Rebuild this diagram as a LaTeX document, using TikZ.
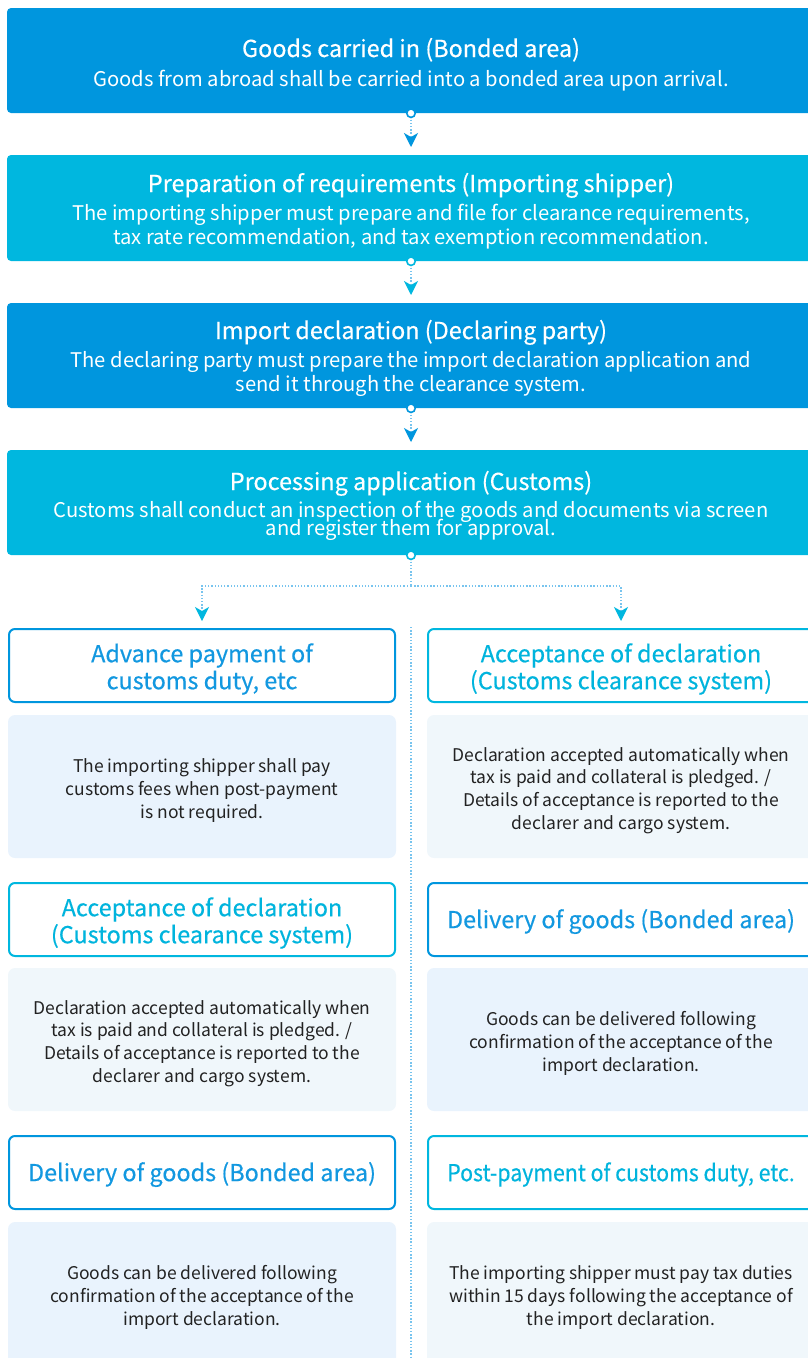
\documentclass[tikz,border=0pt]{standalone}
\usepackage{fontspec}
\usepackage{graphicx}
\setmainfont{Noto Sans CJK KR}
\newfontfamily\tfont{Noto Sans CJK KR}[FakeBold=0.4]
\usetikzlibrary{arrows.meta}
\definecolor{blueA}{RGB}{0,150,222}
\definecolor{cyanA}{RGB}{0,183,223}
\definecolor{blueT}{RGB}{18,152,224}
\definecolor{cyanT}{RGB}{0,180,221}
\definecolor{blueL}{RGB}{233,243,253}
\definecolor{cyanL}{RGB}{240,247,251}
\definecolor{dotc}{RGB}{120,196,238}
\definecolor{bodyT}{RGB}{34,34,34}
\newcommand\tightlines{\lineskiplimit=-30pt\relax}
\begin{document}
\begin{tikzpicture}[x=1pt,y=-1pt,
  mainbox/.style={rectangle,rounded corners=4pt,minimum width=808pt,inner sep=0pt},
  mtitle/.style={anchor=base,text=white,font=\tfont\fontsize{23.4}{27}\selectfont,inner sep=0pt},
  mbody/.style={anchor=center,text=white,align=center,inner sep=0pt,font=\fontsize{20.2}{24}\selectfont},
  joint/.style={circle,fill=white,line width=1.6pt,minimum size=8.5pt,inner sep=0pt},
  dotline/.style={dotc,line width=1.3pt,dash pattern=on 1.3pt off 1.9pt},
  tipB/.style={-{Stealth[length=14pt,width=14pt,inset=4pt,color=blueA]}},
  tipC/.style={-{Stealth[length=14pt,width=14pt,inset=4pt,color=cyanA]}},
  headbox/.style={rectangle,rounded corners=6pt,line width=2pt,fill=white,minimum width=386pt,minimum height=73pt,inner sep=0pt},
  headtext/.style={align=center,inner sep=0pt,font=\tfont\fontsize{23.4}{27}\selectfont},
  descbox/.style={rectangle,rounded corners=7pt,minimum width=388pt,minimum height=143pt,inner sep=0pt},
  desctext/.style={align=center,inner sep=0pt,text=bodyT,font=\fontsize{17.5}{22.8}\selectfont}
]
\useasboundingbox (0,0) rectangle (807,1358);

% main boxes
\node[mainbox,fill=blueA,minimum height=105pt] (m1) at (411,60.5) {};
\node[mtitle] (m1t) at (411,57) {Goods carried in (Bonded area)};
\node[mbody] (m1b) at (411,81) {Goods from abroad shall be carried into a bonded area upon arrival.};

\node[mainbox,fill=cyanA,minimum height=106pt] (m2) at (411,208) {};
\node[mtitle] (m2t) at (411,192) {Preparation of requirements (Importing shipper)};
\node[mbody] (m2b) at (411,227) {The importing shipper must prepare and file for clearance requirements,\\tax rate recommendation, and tax exemption recommendation.};

\node[mainbox,fill=blueA,minimum height=105pt] (m3) at (411,355.5) {};
\node[mtitle] (m3t) at (411,339) {Import declaration (Declaring party)};
\node[mbody] (m3b) at (411,374) {The declaring party must prepare the import declaration application and\\send it through the clearance system.};

\node[mainbox,fill=cyanA,minimum height=105pt] (m4) at (411,502.5) {};
\node[mtitle] (m4t) at (411,490) {Processing application (Customs)};
\node[mbody,font={\fontsize{20.2}{18}\selectfont\tightlines}] (m4b) at (411,521) {Customs shall conduct an inspection of the goods and documents via screen\\and register them for approval.};

% connectors between main boxes
\coordinate (a1) at (411,147);
\coordinate (a2) at (411,295);
\coordinate (a3) at (411,442);
\draw[dotline,tipB] (m1.south) -- (a1);
\node[joint,draw=blueA] (c1) at (m1.south) {};
\draw[dotline,tipC] (m2.south) -- (a2);
\node[joint,draw=cyanA] (c2) at (m2.south) {};
\draw[dotline,tipB] (m3.south) -- (a3);
\node[joint,draw=blueA] (c3) at (m3.south) {};

% branch
\coordinate (j) at (411,586);
\coordinate (aL) at (202,621);
\coordinate (aR) at (621,621);
\draw[dotline] (m4.south) -- (j);
\draw[dotline,tipC] (j) -| (aL);
\draw[dotline,tipC] (j) -| (aR);
\node[joint,draw=cyanA] (c4) at (m4.south) {};

% divider
\coordinate (d1) at (411,627);
\coordinate (d2) at (411,1360);
\draw[dotline] (d1) -- (d2);

% left column
\node[headbox,draw=blueA] (h1) at (202,665.5) {};
\node[headtext,text=blueT,yshift=-3.5pt] (h1t) at (h1.center) {Advance payment of\\customs duty, etc};
\node[descbox,fill=blueL] (e1) at (202,786.5) {};
\node[desctext,yshift=-4pt] (e1t) at (e1.center) {The importing shipper shall pay\\customs fees when post-payment\\is not required.};
\node[headbox,draw=cyanA] (h3) at (202,919.5) {};
\node[headtext,text=cyanT,yshift=-3.5pt] (h3t) at (h3.center) {Acceptance of declaration\\(Customs clearance system)};
\node[descbox,fill=cyanL] (e3) at (202,1039.5) {};
\node[desctext,yshift=-4pt] (e3t) at (e3.center) {Declaration accepted automatically when\\tax is paid and collateral is pledged. /\\Details of acceptance is reported to the\\declarer and cargo system.};
\node[headbox,draw=blueA] (h5) at (202,1172.5) {};
\node[headtext,text=blueT,yshift=-2pt] (h5t) at (h5.center) {Delivery of goods (Bonded area)};
\node[descbox,fill=blueL] (e5) at (202,1293.5) {};
\node[desctext,yshift=-4pt] (e5t) at (e5.center) {Goods can be delivered following\\confirmation of the acceptance of the\\import declaration.};

% right column
\node[headbox,draw=cyanA] (h2) at (621,665.5) {};
\node[headtext,text=cyanT,yshift=-3.5pt] (h2t) at (h2.center) {Acceptance of declaration\\(Customs clearance system)};
\node[descbox,fill=cyanL] (e2) at (621,786.5) {};
\node[desctext,yshift=-4pt] (e2t) at (e2.center) {Declaration accepted automatically when\\tax is paid and collateral is pledged. /\\Details of acceptance is reported to the\\declarer and cargo system.};
\node[headbox,draw=blueA] (h4) at (621,919.5) {};
\node[headtext,text=blueT,yshift=-2pt] (h4t) at (h4.center) {Delivery of goods (Bonded area)};
\node[descbox,fill=blueL] (e4) at (621,1039.5) {};
\node[desctext,yshift=-4pt] (e4t) at (e4.center) {Goods can be delivered following\\confirmation of the acceptance of the\\import declaration.};
\node[headbox,draw=cyanA] (h6) at (621,1172.5) {};
\node[headtext,text=cyanT,yshift=-2pt] (h6t) at (h6.center) {\scalebox{0.91}[1]{Post-payment of customs duty, etc.}};
\node[descbox,fill=cyanL] (e6) at (621,1293.5) {};
\node[desctext,yshift=-4pt] (e6t) at (e6.center) {The importing shipper must pay tax duties\\within 15 days following the acceptance of\\the import declaration.};
\end{tikzpicture}
\end{document}
